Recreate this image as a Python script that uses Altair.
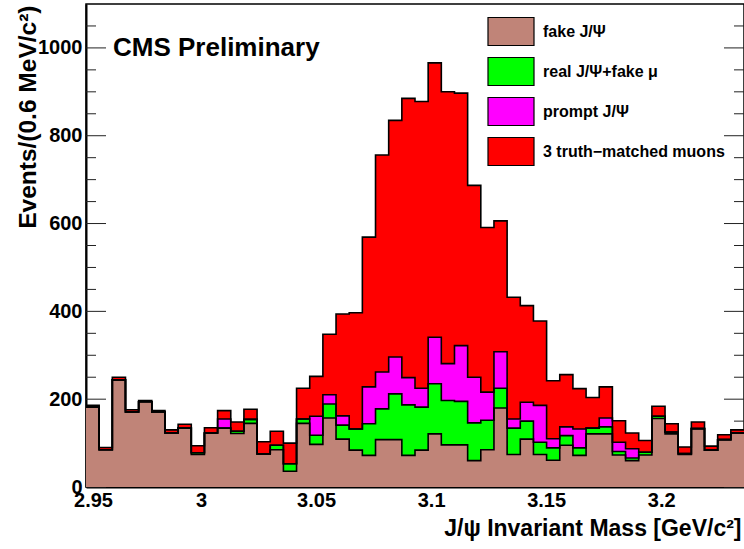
import altair as alt
import pandas as pd

# Histogram binning: 50 equal bins starting at 2.95 GeV
MASS_LOW = 2.95
BIN_WIDTH = 0.00572
Y_MAX = 1100

# Events per bin for each stacked component (bottom to top)
fake_jpsi = [182, 85, 244, 171, 194, 171, 123, 134, 74, 123,
             134, 122, 145, 75, 85, 36, 145, 97, 157, 109,
             84, 72, 108, 108, 72, 84, 121, 96, 96, 60,
             85, 180, 74, 109, 74, 61, 95, 72, 121, 121,
             73, 60, 73, 156, 121, 74, 133, 84, 108, 123]
real_jpsi_fake_mu = [0, 0, 0, 0, 0, 0, 0, 0, 4, 0,
                     0, 5, 9, 0, 10, 17, 10, 21, 32, 32,
                     48, 72, 70, 104, 115, 98, 114, 101, 99, 86,
                     67, 45, 60, 41, 28, 28, 22, 17, 13, 16,
                     8, 6, 6, 5, 4, 2, 0, 0, 0, 0]
prompt_jpsi = [0, 0, 0, 0, 0, 0, 0, 0, 0, 0,
               21, 0, 0, 0, 0, 0, 0, 43, 21, 21,
               0, 84, 84, 84, 62, 43, 106, 84, 127, 104,
               64, 83, 21, 43, 84, 21, 20, 43, 0, 20,
               21, 21, 0, 0, 0, 0, 0, 0, 0, 0]
truth_matched = [4, 5, 6, 5, 3, 3, 7, 9, 16, 12,
                 19, 21, 23, 28, 32, 47, 70, 91, 138, 232,
                 265, 341, 494, 539, 636, 653, 625, 619, 575, 437,
                 375, 298, 277, 220, 192, 132, 119, 92, 70, 71,
                 49, 36, 27, 23, 19, 15, 15, 9, 11, 7]

names = ["fake J/\u03a8", "real J/\u03a8+fake \u03bc", "prompt J/\u03a8",
         "3 truth\u2212matched muons"]
colors = ["#C08478", "#00FF00", "#FF00FF", "#FF0000"]
series = [fake_jpsi, real_jpsi_fake_mu, prompt_jpsi, truth_matched]

y_major = [0, 200, 400, 600, 800, 1000]
y_minor = [50, 100, 150, 250, 300, 350, 450, 500, 550, 650, 700, 750,
           850, 900, 950, 1050]
x_labels = [2.95, 3.0, 3.05, 3.1, 3.15, 3.2]

# Cumulative stack as step areas: one row per bin edge per component
n_bins = len(fake_jpsi)
mass_high = MASS_LOW + BIN_WIDTH * n_bins
edges = [MASS_LOW + BIN_WIDTH * i for i in range(n_bins + 1)]
rows = []
lower = [0] * n_bins
for name, values in zip(names, series):
    upper = [lo + v for lo, v in zip(lower, values)]
    for i in range(n_bins + 1):
        j = min(i, n_bins - 1)
        rows.append({"mass": edges[i], "lo": lower[j], "hi": upper[j], "comp": name})
    lower = upper
stack = pd.DataFrame(rows)

W, H = 658, 483
FONT = "Liberation Sans"

x_scale = alt.Scale(domain=[MASS_LOW, mass_high], nice=False, zero=False)
y_scale = alt.Scale(domain=[0, Y_MAX], nice=False)

x_axis = alt.Axis(
    values=x_labels, format=".2~f", ticks=False, grid=False,
    labelFont=FONT, labelFontSize=20, labelFontWeight="bold",
    labelColor="black", labelPadding=3, labelFlush=False, labelOverlap=False,
    # nudge the first label clear of the y-axis corner
    labelOffset={"condition": {"test": "datum.value < 2.96", "value": 7}, "value": 0},
    domainColor="black", domainWidth=2,
    title="J/\u03c8 Invariant Mass [GeV/c\u00b2]",
    titleFont=FONT, titleFontSize=23, titleFontWeight="bold",
    titleColor="black", titleAnchor="end", titleAlign="right",
    titleBaseline="alphabetic", titleX=W - 3, titleY=48,
)
y_axis = alt.Axis(
    values=y_major, format="d", ticks=False, grid=False,
    labelFont=FONT, labelFontSize=20, labelFontWeight="bold",
    labelColor="black", labelPadding=4, labelFlush=False, labelOverlap=False,
    domainColor="black", domainWidth=2,
    title="Events/(0.6 MeV/c\u00b2)",
    titleFont=FONT, titleFontSize=24.5, titleFontWeight="bold",
    titleColor="black", titleAngle=270, titleAnchor="end", titleAlign="right",
    titleBaseline="middle", titleX=-58, titleY=1,
)

# Axis ticks pointing into the frame (drawn beneath the histograms)
ytick_major = pd.DataFrame({"v": y_major})
ytick_minor = pd.DataFrame({"v": y_minor})
tick_layers = []
for df, length in [(ytick_major, 20), (ytick_minor, 10)]:
    for x0, x1 in [(0, length), (W - length, W)]:
        tick_layers.append(
            alt.Chart(df).mark_rule(color="#222222", strokeWidth=1).encode(
                y=alt.Y("v:Q", scale=y_scale, axis=y_axis),
                x=alt.value(x0), x2=alt.value(x1),
            )
        )

areas = alt.Chart(stack).mark_area(interpolate="step-after", clip=True).encode(
    x=alt.X("mass:Q", scale=x_scale, axis=x_axis),
    y=alt.Y("hi:Q", scale=y_scale, axis=y_axis),
    y2="lo:Q",
    color=alt.Color("comp:N", scale=alt.Scale(domain=names, range=colors), legend=None),
)

outlines = alt.Chart(stack).mark_line(
    interpolate="step-after", color="black", strokeWidth=1.6, clip=True
).encode(
    x=alt.X("mass:Q", scale=x_scale, axis=x_axis),
    y=alt.Y("hi:Q", scale=y_scale, axis=y_axis),
    detail="comp:N",
)

label_df = pd.DataFrame({"t": ["CMS Preliminary"]})
cms = alt.Chart(label_df).mark_text(
    align="left", baseline="alphabetic", font=FONT,
    fontSize=26, fontWeight="bold", color="black",
).encode(x=alt.value(27), y=alt.value(52), text="t:N")

# Legend: filled swatches with labels in the upper right
legend_layers = []
for k, (name, color) in enumerate(zip(names, colors)):
    top = 13.5 + 40 * k
    entry = pd.DataFrame({"label": [name]})
    legend_layers.append(
        alt.Chart(entry).mark_rect(fill=color, stroke="black", strokeWidth=1.2).encode(
            x=alt.value(402), x2=alt.value(448),
            y=alt.value(top), y2=alt.value(top + 28),
        )
    )
    legend_layers.append(
        alt.Chart(entry).mark_text(
            align="left", baseline="middle", font=FONT,
            fontSize=16, fontWeight="bold", color="black",
        ).encode(x=alt.value(457), y=alt.value(top + 14), text="label:N")
    )

chart = alt.layer(
    *tick_layers, areas, outlines, cms, *legend_layers
).properties(
    width=W, height=H,
    autosize=alt.AutoSizeParams(type="none"),
    padding={"left": 86, "top": 4, "right": 0, "bottom": 62},
    background="white",
).configure_view(stroke="black", strokeWidth=1.5)

chart.save("out.html", embed_options={"renderer": "svg", "actions": False})
